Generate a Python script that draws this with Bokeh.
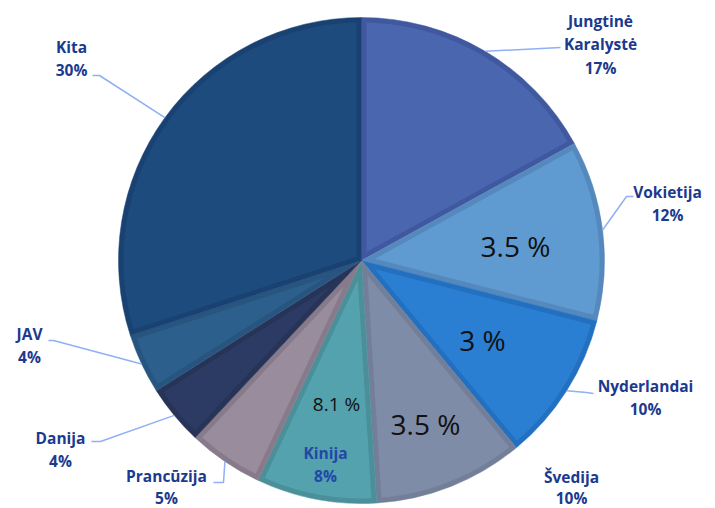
import numpy as np
from bokeh.plotting import figure
from bokeh.models import Range1d, ColumnDataSource
from bokeh.core.properties import value
from bokeh.embed import file_html
from bokeh.resources import INLINE

# ---- data ----
countries = ["Jungtinė Karalystė", "Vokietija", "Nyderlandai", "Švedija", "Kinija",
             "Prancūzija", "Danija", "JAV", "Kita"]
label_lines = [["Jungtinė", "Karalystė"], ["Vokietija"], ["Nyderlandai"], ["Švedija"],
               ["Kinija"], ["Prancūzija"], ["Danija"], ["JAV"], ["Kita"]]
shares = [17, 12, 10, 10, 8, 5, 4, 4, 30]
inner_values = ["", "3.5 %", "3 %", "3.5 %", "8.1 %", "", "", "", ""]

# ---- styles ----
fill_colors = ["#4a66ae", "#5f9bd0", "#2b7fd3", "#7e8ca7", "#53a2ad",
               "#998c9c", "#2c3b63", "#2c5f8c", "#1d4b7d"]
edge_colors = ["#4058a0", "#5589bd", "#2370c0", "#737f98", "#4a8f99",
               "#877b8b", "#273457", "#27557f", "#194272"]
label_color = "#1b3a8e"

# ---- layout (pixel positions of the page) ----
CX, CY, R, INSET = 361, 260, 243, 5
# text centre x, first line y, line height, leader elbow, leader end
label_layout = [
    (600, 20, 23.5, (560, 47), (560, 47)),
    (667, 191, 23.5, (626, 196), (633, 196)),
    (645, 385, 23.5, (586, 392), (593, 393)),
    (571, 476, 21.5, None, None),
    (325, 452, 23.5, None, None),
    (166, 475, 22, (223, 482), (213, 482)),
    (60, 437, 23.5, (100, 441), (91, 441)),
    (29, 333, 23.5, (53, 340), (48, 340)),
    (71, 46, 23.5, (99, 75), (92, 75)),
]
inner_layout = [None, (515, 245, "28px"), (482, 339, "28px"), (425, 423, "28px"),
                (336, 403, "19px"), None, None, None, None]

W, H = 715, 508
p = figure(width=W, height=H, output_backend="svg", toolbar_location=None,
           x_range=Range1d(0, W), y_range=Range1d(-H, 0),
           min_border=0)
p.axis.visible = False
p.grid.visible = False
p.outline_line_color = None
p.background_fill_color = "white"

vals = np.array(shares, dtype=float)
frac = vals / vals.sum()
cum = np.concatenate([[0], np.cumsum(frac)])
start_ang = np.pi / 2 - cum[1:] * 2 * np.pi
end_ang = np.pi / 2 - cum[:-1] * 2 * np.pi
mid_ang = (start_ang + end_ang) / 2

src = ColumnDataSource(dict(start=start_ang, end=end_ang, color=edge_colors))
p.wedge(x=CX, y=-CY, radius=R, start_angle="start", end_angle="end",
        fill_color="color", line_color="color", line_width=0.5, source=src)

# inner (lighter) part of each slice, inset from its edges
xs, ys = [], []
rho = R - INSET
for a0, a1 in zip(start_ang, end_ang):
    half = (a1 - a0) / 2
    m = (a0 + a1) / 2
    k = INSET / np.sin(half) if half < np.pi / 2 else INSET
    ax, ay = CX + k * np.cos(m), -CY + k * np.sin(m)
    da = np.arcsin(INSET / rho)
    t = np.linspace(a0 + da, a1 - da, 80)
    xs.append(np.concatenate([[ax], CX + rho * np.cos(t)]).tolist())
    ys.append(np.concatenate([[ay], -CY + rho * np.sin(t)]).tolist())
p.patches(xs=xs, ys=ys, fill_color=fill_colors, line_color=None)

# leader lines
for i, lay in enumerate(label_layout):
    if lay[3] is None:
        continue
    sx, sy = CX + R * np.cos(mid_ang[i]), -CY + R * np.sin(mid_ang[i])
    (ex, ey), (hx, hy) = lay[3], lay[4]
    p.line([sx, ex, hx], [sy, -ey, -hy], line_color="#8fb0f5", line_width=1.5)

# outside labels
for i, lay in enumerate(label_layout):
    tx, ty, lh = lay[0], lay[1], lay[2]
    lines = label_lines[i] + [f"{shares[i]}%"]
    col = "#2247a6" if countries[i] == "Kinija" else label_color
    for j, t in enumerate(lines):
        p.text(x=[tx], y=[-(ty + j * lh)], text=[t], text_align="center",
               text_baseline="middle", text_font=value("Open Sans"),
               text_font_style="bold", text_font_size="15.5px", text_color=col)

# values inside slices
for i, lay in enumerate(inner_layout):
    if lay is None:
        continue
    p.text(x=[lay[0]], y=[-lay[1]], text=[inner_values[i]], text_align="center",
           text_baseline="middle", text_font=value("Open Sans"),
           text_font_size=lay[2], text_color="#111111")

open("out.html", "w").write(file_html(p, INLINE))
